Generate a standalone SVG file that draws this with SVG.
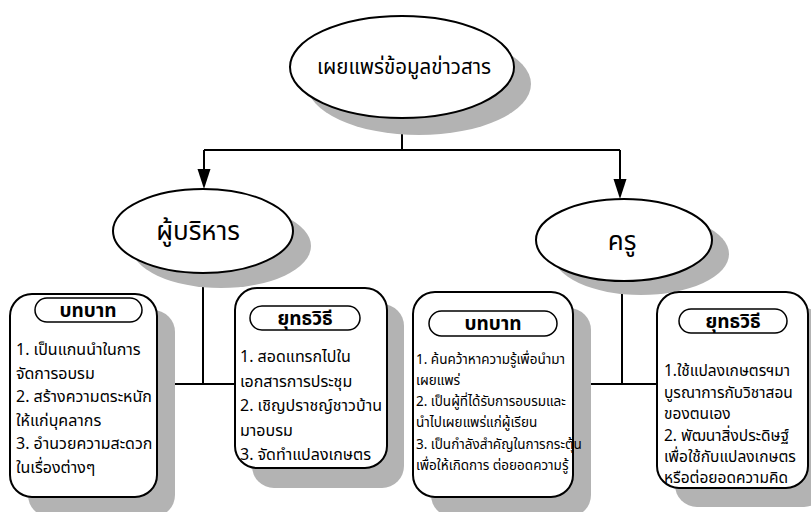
<svg xmlns="http://www.w3.org/2000/svg" width="811" height="512" viewBox="0 0 811 512">
<defs>
<style>
.sh{fill:#b3b3b3;stroke:none}
.nd{fill:#fff;stroke:#000;stroke-width:2}
.pill{fill:#fff;stroke:#000;stroke-width:1.5}
.ln{fill:none;stroke:#000;stroke-width:2}
.ah{fill:#000;stroke:none}
text{font-family:"Noto Sans Thai","Noto Sans","DejaVu Sans","Liberation Sans",sans-serif;fill:#000}
.t1{font-size:20.5px;text-anchor:middle}
.t2{font-size:26px;text-anchor:middle}
.tt{font-size:19px;text-anchor:middle;font-weight:bold}
.b1{font-size:16px}
.b3{font-size:13.5px}
.b4{font-size:15.5px}
</style>
</defs>
<rect width="811" height="512" fill="#fff"/>
<g id="connectors">
<path class="ln" d="M402,118 V150"/>
<path class="ln" d="M204,150 H620"/>
<path class="ln" d="M204,150 V172"/>
<path class="ah" d="M197.5,169 L210.5,169 L204,189 Z"/>
<path class="ln" d="M620,150 V182"/>
<path class="ah" d="M613.5,179 L626.5,179 L620,199 Z"/>
<path class="ln" d="M203,273 V384"/>
<path class="ln" d="M157,384 H235"/>
<path class="ln" d="M622,281 V384"/>
<path class="ln" d="M573,384 H657"/>
</g>
<g id="node-top">
<ellipse class="sh" cx="419" cy="84" rx="112" ry="51"/>
<ellipse class="nd" cx="402" cy="67" rx="112" ry="51"/>
<text class="t1" x="404" y="74">เผยแพร่ข้อมูลข่าวสาร</text>
</g>
<g id="node-admin">
<ellipse class="sh" cx="221" cy="246" rx="90" ry="42"/>
<ellipse class="nd" cx="203" cy="231" rx="90" ry="42"/>
<text class="t2" x="198" y="240">ผู้บริหาร</text>
</g>
<g id="node-teacher">
<ellipse class="sh" cx="641" cy="254" rx="88" ry="41"/>
<ellipse class="nd" cx="624" cy="240" rx="88" ry="41"/>
<text class="t2" x="622" y="250">ครู</text>
</g>
<g id="box-admin-role">
<rect class="sh" x="28" y="310" width="147" height="207" rx="22"/>
<rect class="nd" x="10" y="294" width="147" height="203" rx="22"/>
<rect class="pill" x="35" y="298" width="107" height="24" rx="12"/>
<text class="tt" x="88" y="317">บทบาท</text>
<text class="b1" x="16" y="355">1. เป็นแกนนำในการ</text>
<text class="b1" x="16" y="378.5">จัดการอบรม</text>
<text class="b1" x="16" y="402">2. สร้างความตระหนัก</text>
<text class="b1" x="16" y="425.5">ให้แก่บุคลากร</text>
<text class="b1" x="16" y="449">3. อำนวยความสะดวก</text>
<text class="b1" x="16" y="472.5">ในเรื่องต่างๆ</text>
</g>
<g id="box-admin-strategy">
<rect class="sh" x="252" y="304" width="152" height="184" rx="22"/>
<rect class="nd" x="235" y="288" width="152" height="180" rx="22"/>
<rect class="pill" x="250" y="306" width="110" height="24" rx="12"/>
<text class="tt" x="305" y="325">ยุทธวิธี</text>
<text class="b1" x="240" y="362">1. สอดแทรกไปใน</text>
<text class="b1" x="240" y="386.5">เอกสารการประชุม</text>
<text class="b1" x="240" y="411">2. เชิญปราชญ์ชาวบ้าน</text>
<text class="b1" x="240" y="435.5">มาอบรม</text>
<text class="b1" x="240" y="460">3. จัดทำแปลงเกษตร</text>
</g>
<g id="box-teacher-role">
<rect class="sh" x="431" y="308" width="160" height="209" rx="22"/>
<rect class="nd" x="413" y="292" width="160" height="205" rx="22"/>
<rect class="pill" x="429" y="311" width="128" height="25" rx="12.5"/>
<text class="tt" x="493" y="330">บทบาท</text>
<text class="b3" x="416" y="364">1. ค้นคว้าหาความรู้เพื่อนำมา</text>
<text class="b3" x="416" y="385">เผยแพร่</text>
<text class="b3" x="416" y="406">2. เป็นผู้ที่ได้รับการอบรมและ</text>
<text class="b3" x="416" y="427">นำไปเผยแพร่แก่ผู้เรียน</text>
<text class="b3" x="416" y="449">3. เป็นกำลังสำคัญในการกระตุ้น</text>
<text class="b3" x="416" y="470">เพื่อให้เกิดการ ต่อยอดความรู้</text>
</g>
<g id="box-teacher-strategy">
<rect class="sh" x="675" y="308" width="151" height="199" rx="22"/>
<rect class="nd" x="657" y="292" width="151" height="196" rx="22"/>
<rect class="pill" x="679" y="309" width="108" height="24" rx="12"/>
<text class="tt" x="733" y="328">ยุทธวิธี</text>
<text class="b4" x="664" y="376">1.ใช้แปลงเกษตรฯมา</text>
<text class="b4" x="664" y="397.5">บูรณาการกับวิชาสอน</text>
<text class="b4" x="664" y="419">ของตนเอง</text>
<text class="b4" x="664" y="440.5">2. พัฒนาสิ่งประดิษฐ์</text>
<text class="b4" x="664" y="462">เพื่อใช้กับแปลงเกษตร</text>
<text class="b4" x="664" y="483">หรือต่อยอดความคิด</text>
</g>
</svg>
